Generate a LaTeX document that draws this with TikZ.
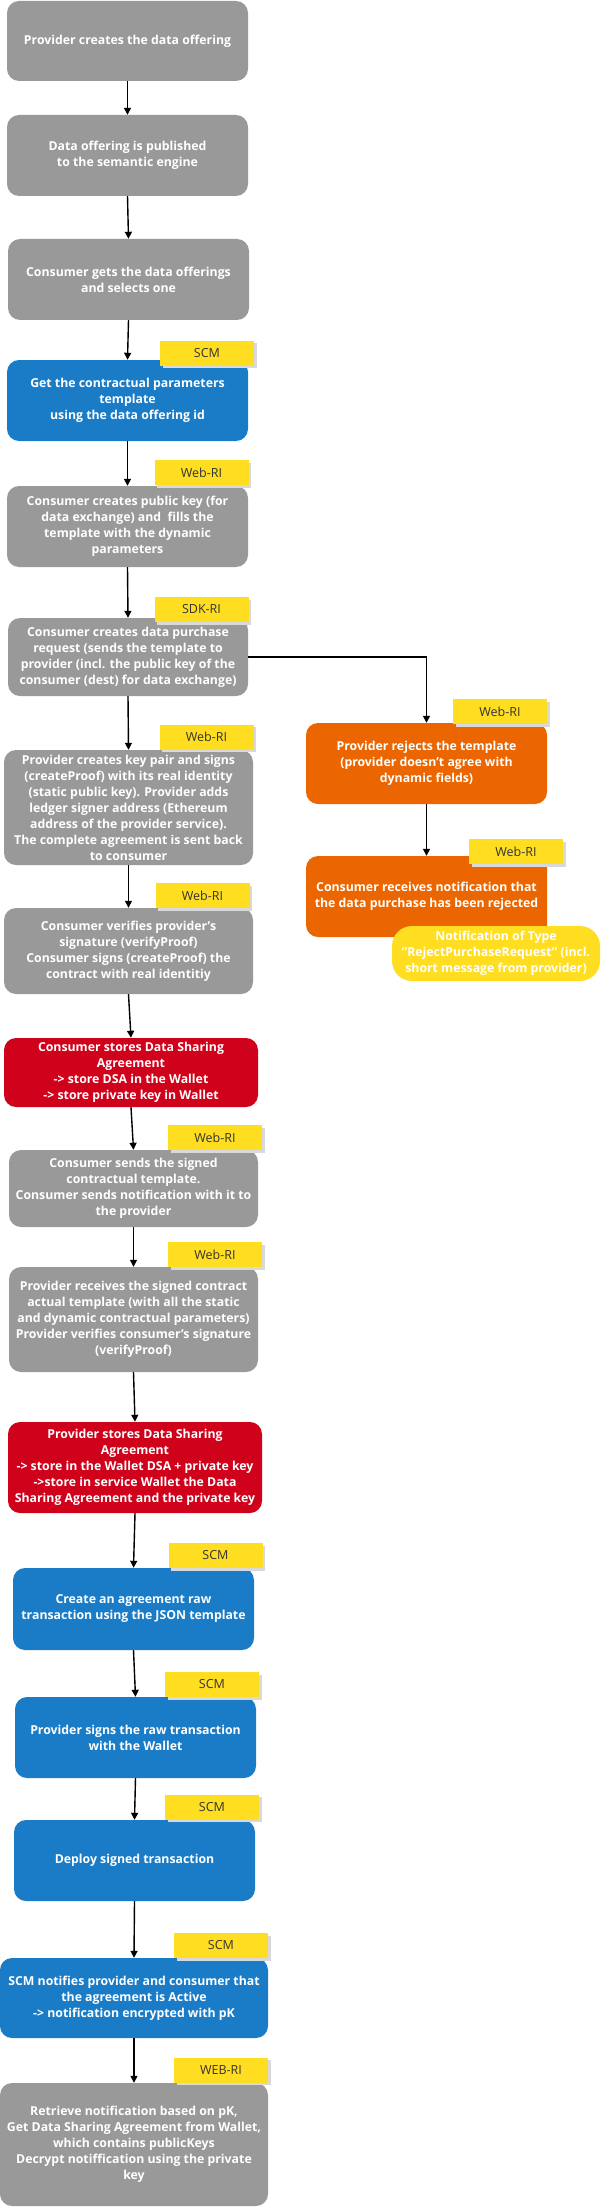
\documentclass[tikz,border=0pt]{standalone}
\usepackage{fontspec}
\setmainfont{Open Sans}
\usetikzlibrary{arrows.meta,shadows}
\definecolor{boxgray}{HTML}{999999}
\definecolor{boxblue}{HTML}{1A7CC7}
\definecolor{boxred}{HTML}{D0021B}
\definecolor{boxorange}{HTML}{EB6600}
\definecolor{tagyellow}{HTML}{FFDD21}
\definecolor{tagtext}{HTML}{333333}
\tikzset{
  flow/.style={rounded corners=12pt, draw=none, text=white, align=center, inner sep=0pt,
    font=\bfseries\fontsize{12.3}{16}\selectfont},
  tag/.style={fill=tagyellow, draw=none, text=tagtext, minimum width=94pt, minimum height=25pt,
    inner sep=0pt, font=\fontsize{12.5}{14}\selectfont,
    drop shadow={shadow xshift=2.5pt, shadow yshift=-2.5pt, fill=black!15, opacity=1}},
  conn/.style={line width=1.4pt, -{Triangle[width=7pt,length=7pt]}},
}
\begin{document}
\begin{tikzpicture}[x=1pt,y=-1pt]
\useasboundingbox (0,0) rectangle (600,2207);
% main column
\node[flow, fill=boxgray, minimum width=241pt, minimum height=80pt] (b1) at (127.5,41) {Provider creates the data offering};
\node[flow, fill=boxgray, minimum width=241pt, minimum height=81pt] (b2) at (127.5,155.5) {Data offering is published\\ to the semantic engine};
\node[flow, fill=boxgray, minimum width=241pt, minimum height=81pt] (b3) at (128.5,279.5) {Consumer gets the data offerings\\ and selects one};
\node[flow, fill=boxblue, minimum width=241pt, minimum height=81pt] (b4) at (127.5,400.5) {Get the contractual parameters\\ template\\ using the data offering id};
\node[flow, fill=boxgray, minimum width=241pt, minimum height=81pt] (b5) at (127.5,526.5) {Consumer creates public key (for\\ data exchange) and\ \ fills the\\ template with the dynamic\\ parameters};
\node[flow, fill=boxgray, minimum width=240pt, minimum height=78pt] (b6) at (128,657) {Consumer creates data purchase\\ request (sends the template to\\ provider (incl. the public key of the\\ consumer (dest) for data exchange)};
\node[flow, fill=boxgray, minimum width=249pt, minimum height=115pt] (b7) at (128.5,807.5) {Provider creates key pair and signs\\ (createProof) with its real identity\\ (static public key). Provider adds\\ ledger signer address (Ethereum\\ address of the provider service).\\ The complete agreement is sent back\\ to consumer};
\node[flow, fill=boxgray, minimum width=249pt, minimum height=86pt] (b8) at (128.5,951) {Consumer verifies provider's\\ signature (verifyProof)\\ Consumer signs (createProof) the\\ contract with real identitiy};
\node[flow, fill=boxred, minimum width=254pt, minimum height=69pt] (b9) at (131,1072.5) {Consumer stores Data Sharing\\ Agreement\\ -> store DSA in the Wallet\\ -> store private key in Wallet};
\node[flow, fill=boxgray, minimum width=249pt, minimum height=77pt] (b10) at (133.5,1188.5) {Consumer sends the signed\\ contractual template.\\ Consumer sends notification with it to\\ the provider};
\node[flow, fill=boxgray, minimum width=249pt, minimum height=105pt] (b11) at (133.5,1319.5) {Provider receives the signed contract\\ actual template (with all the static\\ and dynamic contractual parameters)\\ Provider verifies consumer's signature\\ (verifyProof)};
\node[flow, fill=boxred, minimum width=254pt, minimum height=91pt] (b12) at (135,1467.5) {Provider stores Data Sharing\\ Agreement\\ -> store in the Wallet DSA + private key\\ ->store in service Wallet the Data\\ Sharing Agreement and the private key};
\node[flow, fill=boxblue, minimum width=241pt, minimum height=82pt] (b13) at (133.5,1609) {Create an agreement raw\\ transaction using the JSON template};
\node[flow, fill=boxblue, minimum width=241pt, minimum height=81pt] (b14) at (135.5,1737.5) {Provider signs the raw transaction\\ with the Wallet};
\node[flow, fill=boxblue, minimum width=241pt, minimum height=81pt] (b15) at (134.5,1860.5) {Deploy signed transaction};
\node[flow, fill=boxblue, minimum width=268pt, minimum height=80pt] (b16) at (134,1998) {SCM notifies provider and consumer that\\ the agreement is Active\\ -> notification encrypted with pK};
\node[flow, fill=boxgray, minimum width=268pt, minimum height=123pt] (b17) at (134,2144.5) {Retrieve notification based on pK,\\ Get Data Sharing Agreement from Wallet,\\ which contains publicKeys\\ Decrypt notiffication using the private\\ key};
% reject branch
\node[flow, fill=boxorange, minimum width=241pt, minimum height=81pt] (b18) at (426.5,763.5) {Provider rejects the template\\ (provider doesn't agree with\\ dynamic fields)};
\node[flow, fill=boxorange, minimum width=241pt, minimum height=81pt] (b19) at (426.5,896.5) {Consumer receives notification that\\ the data purchase has been rejected};
\node[flow, fill=tagyellow, rounded corners=20pt, minimum width=208pt, minimum height=55pt] (note) at (496,953.5) {Notification of Type\\ "RejectPurchaseRequest" (incl.\\ short message from provider)};
% tags
\node[tag] (t4) at (207,353) {SCM};
\node[tag] (t5) at (201.5,472.5) {Web-RI};
\node[tag] (t6) at (201.5,609.5) {SDK-RI};
\node[tag] (t7) at (206.5,737) {Web-RI};
\node[tag] (t8) at (202.5,895.5) {Web-RI};
\node[tag] (t10) at (215,1137.5) {Web-RI};
\node[tag] (t11) at (215,1254.5) {Web-RI};
\node[tag] (t13) at (215.5,1555.5) {SCM};
\node[tag] (t14) at (212,1684.5) {SCM};
\node[tag] (t15) at (212,1807) {SCM};
\node[tag] (t16) at (221,1945.5) {SCM};
\node[tag] (t17) at (221,2070) {WEB-RI};
\node[tag] (t18) at (500,711.5) {Web-RI};
\node[tag] (t19) at (516,851.5) {Web-RI};
% connectors
\draw[conn] (b1.south) -- (b2.north);
\draw[conn] (b2.south) -- (b3.north);
\draw[conn] (b3.south) -- (b4.north);
\draw[conn] (b4.south) -- (b5.north);
\draw[conn] (b5.south) -- (b6.north);
\draw[conn] (b6.south) -- (b7.north);
\draw[conn] (b7.south) -- (b8.north);
\draw[conn] (b8.south) -- (b9.north);
\draw[conn] (b9.south) -- (b10.north);
\draw[conn] (b10.south) -- (b11.north);
\draw[conn] (b11.south) -- (b12.north);
\draw[conn] (b12.south) -- (b13.north);
\draw[conn] (b13.south) -- (b14.north);
\draw[conn] (b14.south) -- (b15.north);
\draw[conn] (b15.south) -- (b16.north);
\draw[conn] (b16.south) -- (b17.north);
\draw[conn] (b6.east) -| (b18.north);
\draw[conn] (b18.south) -- (b19.north);
\end{tikzpicture}
\end{document}
